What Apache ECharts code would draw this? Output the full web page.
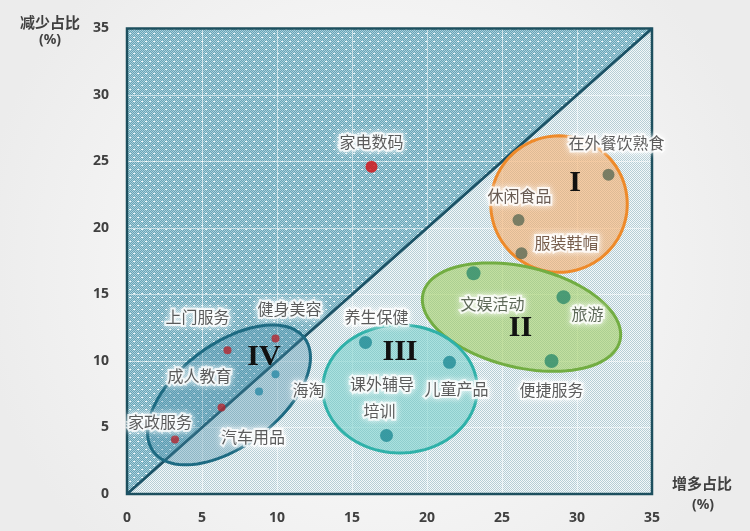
<!DOCTYPE html>
<html><head><meta charset="utf-8">
<script src="https://cdn.jsdelivr.net/npm/echarts@6/dist/echarts.min.js"></script>
<style>html,body{margin:0;padding:0;background:#f3f3f3;}#c{width:750px;height:531px;}</style>
</head><body><div id="c"></div>
<script>
// ---- data ----
const names = ['家电数码','在外餐饮熟食','休闲食品','服装鞋帽','文娱活动','旅游','便捷服务','养生保健','儿童产品','培训','课外辅导','上门服务','健身美容','成人教育','家政服务','海淘','汽车用品'];
const increase = [16.3, 32.1, 26.1, 26.3, 23.1, 29.1, 28.3, 15.9, 21.5, 17.3, 17.0, 6.7, 9.9, 6.3, 3.2, 9.9, 8.8];
const decrease = [24.6, 24.0, 20.6, 18.1, 16.6, 14.8, 10.0, 11.4, 9.9, 4.4, 8.3, 10.8, 11.7, 6.5, 4.1, 9.0, 7.7];
const group = ['single','I','I','I','II','II','II','III','III','III','III0','IVr','IVr','IVr','IVr','IVb','IVb'];
const axisTicks = [0, 5, 10, 15, 20, 25, 30, 35];
const clusterNames = ['I','II','III','IV'];
const clusterCenterX = [28.8, 26.3, 18.2, 6.8];
const clusterCenterY = [21.8, 13.3, 7.9, 7.45];

// ---- styles ----
const clusterShape = [
  {a:4.55, b:4.55, angle:0, fill:'rgba(246,176,112,0.62)', stroke:'#ee8a2a', num:[16,-21]},
  {a:6.75, b:3.35, angle:13.4, fill:'rgba(165,208,105,0.62)', stroke:'#72ad42', num:[-1,11]},
  {a:5.15, b:4.27, angle:0, fill:'rgba(112,206,200,0.55)', stroke:'#2fb1a9', num:[0,-37]},
  {a:6.3, b:3.4, angle:-37, fill:'rgba(70,140,170,0.35)', stroke:'#1d6a82', num:[35,-38]}
];
const groupStyle = {
  single:{color:'#d40d12', size:12},
  I:{color:'#5e6b55', size:12},
  II:{color:'#2e8b6b', size:14},
  III:{color:'#1f8b95', size:13},
  III0:{color:'#1f8b95', size:0},
  IVr:{color:'#b3262f', size:8},
  IVb:{color:'#2a8aa5', size:8}
};
const labelOffset = {
  '家电数码':[0,-25],'在外餐饮熟食':[8,-32],'休闲食品':[1,-24],'服装鞋帽':[45,-10],
  '文娱活动':[19,31],'旅游':[24,17],'便捷服务':[0,29],'养生保健':[11,-25],
  '儿童产品':[7,27],'培训':[-7,-25],'课外辅导':[0,0],'上门服务':[-30,-33],
  '健身美容':[14,-29],'成人教育':[-22,-32],'家政服务':[-15,-18],'海淘':[33,16],'汽车用品':[-6,45]
};
const labelColor = {'休闲食品':'#45352a','服装鞋帽':'#553620','文娱活动':'#36432f','旅游':'#36432f'};

function makePattern(size, draw){
  const c = document.createElement('canvas'); c.width = size; c.height = size;
  draw(c.getContext('2d')); return c;
}
const upperImg = makePattern(8, g => {
  g.fillStyle = '#68a4b6'; g.fillRect(0,0,8,8);
  g.fillStyle = '#a9d0dc';
  for (let i=0;i<8;i++) for (let j=0;j<8;j++) if ((i+j)%2===0) g.fillRect(i,j,1,1);
  g.fillStyle = '#f4fbfd';
  g.fillRect(1,1,2,1); g.fillRect(5,5,2,1);
});
const lowerImg = makePattern(2, g => {
  g.fillStyle = '#f3f8fa'; g.fillRect(0,0,2,2);
  g.fillStyle = '#b6ced5';
  g.fillRect(0,0,1,1); g.fillRect(1,1,1,1);
});

const chart = echarts.init(document.getElementById('c'));
const axisMin = axisTicks[0], axisMax = axisTicks[axisTicks.length-1];
const step = axisTicks[1]-axisTicks[0];

const scatterData = names.map((n,i) => {
  const st = groupStyle[group[i]];
  return {
    name: n, value: [increase[i], decrease[i]], symbolSize: st.size,
    itemStyle: {color: st.color},
    label: {color: labelColor[n] || '#333333'}
  };
});

const axisCommon = {
  type:'value', min:axisMin, max:axisMax, interval:step, z:1,
  axisLine:{show:false}, axisTick:{show:false},
  splitLine:{show:true, lineStyle:{color:'rgba(255,255,255,0.55)', width:1}},
  axisLabel:{color:'#404040', fontSize:14, fontWeight:'bold', fontFamily:'Noto Sans'}
};

chart.setOption({
  backgroundColor:{type:'radial', x:0.5, y:0.5, r:0.75, colorStops:[{offset:0,color:'#ffffff'},{offset:1,color:'#ececec'}]},
  animation:false,
  grid:{left:127, right:98, top:28.5, bottom:37},
  xAxis: Object.assign({}, axisCommon, {axisLabel:Object.assign({}, axisCommon.axisLabel, {margin:17})}),
  yAxis: Object.assign({}, axisCommon, {axisLabel:Object.assign({}, axisCommon.axisLabel, {margin:18})}),
  graphic:[
    {type:'text', left:20, top:15, style:{text:'减少占比', fontSize:15, fontWeight:'bold', fill:'#404040', fontFamily:'Noto Sans CJK SC'}},
    {type:'text', left:39, top:33, style:{text:'(%)', fontSize:14, fontWeight:'bold', fill:'#404040', fontFamily:'Noto Sans'}},
    {type:'text', left:672, top:476, style:{text:'增多占比', fontSize:15, fontWeight:'bold', fill:'#404040', fontFamily:'Noto Sans CJK SC'}},
    {type:'text', left:692, top:498, style:{text:'(%)', fontSize:14, fontWeight:'bold', fill:'#404040', fontFamily:'Noto Sans'}}
  ],
  series:[
    { // background triangles
      type:'custom', z:0, silent:true, data:[[axisMin]],
      renderItem:(params, api) => {
        const p = (x,y) => api.coord([x,y]);
        return {type:'group', children:[
          {type:'polygon', shape:{points:[p(axisMin,axisMin),p(axisMin,axisMax),p(axisMax,axisMax)]}, style:{fill:{image:upperImg, repeat:'repeat'}}},
          {type:'polygon', shape:{points:[p(axisMin,axisMin),p(axisMax,axisMin),p(axisMax,axisMax)]}, style:{fill:{image:lowerImg, repeat:'repeat'}}}
        ]};
      }
    },
    { // frame
      type:'custom', z:1.5, silent:true, data:[[axisMin]],
      renderItem:(params, api) => {
        const a = api.coord([axisMin,axisMax]), b = api.coord([axisMax,axisMin]);
        return {type:'rect', shape:{x:a[0], y:a[1], width:b[0]-a[0], height:b[1]-a[1]},
          style:{fill:'none', stroke:'#1d4f5e', lineWidth:2.5}};
      }
    },
    { // diagonal
      type:'line', z:1.6, silent:true, symbol:'none', data:[[axisMin,axisMin],[axisMax,axisMax]],
      lineStyle:{color:'#1b5266', width:3}
    },
    { // cluster ellipses
      type:'custom', z:2, silent:true,
      data: clusterNames.map((n,i) => [clusterCenterX[i], clusterCenterY[i], i]),
      renderItem:(params, api) => {
        const i = api.value(2);
        const s = clusterShape[i];
        const c = api.coord([api.value(0), api.value(1)]);
        const u = api.size([1,1])[0];
        const A = s.a*u, B = s.b*u, th = s.angle*Math.PI/180;
        const pts = [];
        for (let k=0;k<96;k++){
          const t = k/96*Math.PI*2;
          pts.push([c[0] + A*Math.cos(t)*Math.cos(th) - B*Math.sin(t)*Math.sin(th),
                    c[1] + A*Math.cos(t)*Math.sin(th) + B*Math.sin(t)*Math.cos(th)]);
        }
        return {type:'group', children:[
          {type:'polygon', shape:{points:pts}, style:{fill:s.fill, stroke:s.stroke, lineWidth:3}},
          {type:'text', x:c[0]+s.num[0], y:c[1]+s.num[1], z2:10,
            style:{text:clusterNames[i], fontSize:30, fontWeight:'bold', fontFamily:'Liberation Serif',
              fill:'#111', align:'center', verticalAlign:'middle', textAlign:'center', textVerticalAlign:'middle',
              shadowColor:'#ffffff', shadowBlur:6}}
        ]};
      }
    },
    {
      type:'scatter', z:3, data:scatterData,
      label:{show:true, position:'inside', formatter:'{b}', fontSize:16, fontFamily:'Noto Sans CJK SC',
        textBorderColor:'rgba(255,255,255,0.95)', textBorderWidth:4, textShadowColor:'#fff', textShadowBlur:6},
      labelLayout: params => {
        const o = labelOffset[names[params.dataIndex]] || [0,0];
        return {dx:o[0], dy:o[1], hideOverlap:false};
      }
    }
  ]
});
</script></body></html>
